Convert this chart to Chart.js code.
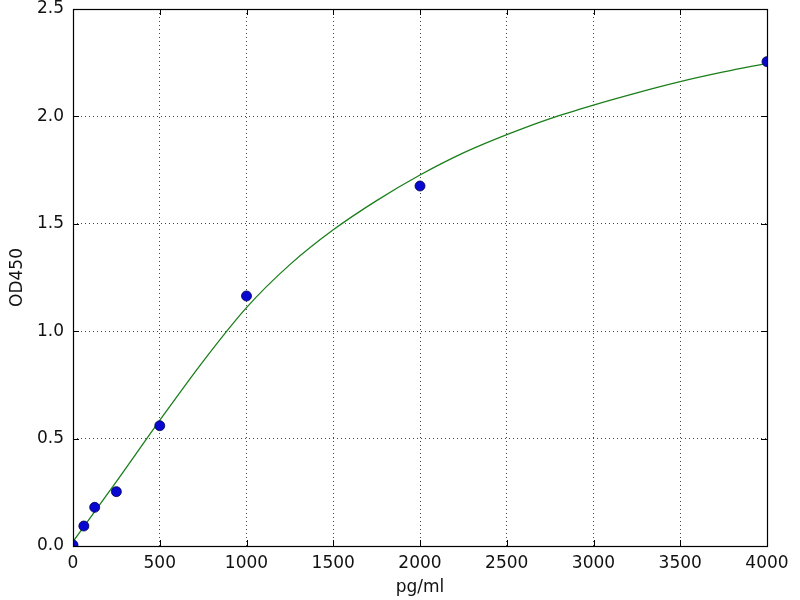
<!DOCTYPE html>
<html>
<head>
<meta charset="utf-8">
<script src="https://cdn.jsdelivr.net/npm/chart.js@4"></script>
<style>
  html, body { margin: 0; padding: 0; background: #fff; }
</style>
</head>
<body>
<canvas id="c" width="800" height="600"></canvas>
<script>
// measured standards
var concentrations = [0, 62.5, 125, 250, 500, 1000, 2000, 4000];
var odValues = [0.005, 0.093, 0.18, 0.253, 0.56, 1.164, 1.676, 2.255];

// fitted curve
var curveX = [0, 125, 250, 500, 750, 1000, 1250, 1500, 1750, 2000, 2250, 2500, 2750, 3000, 3250, 3500, 3750, 4000];
var curveY = [0.02, 0.16, 0.30, 0.585, 0.86, 1.11, 1.31, 1.472, 1.608, 1.727, 1.83, 1.915, 1.99, 2.053, 2.11, 2.162, 2.207, 2.247];

var xTicks = [0, 500, 1000, 1500, 2000, 2500, 3000, 3500, 4000];
var yTicks = [0, 0.5, 1.0, 1.5, 2.0, 2.5];

var FONT = 'DejaVu Sans';

function toPoints(xs, ys) {
    var out = [];
    for (var i = 0; i < xs.length; i++) out.push({ x: xs[i], y: ys[i] });
    return out;
}

// frame with inward ticks on all four sides (matplotlib classic look)
var framePlugin = {
    id: 'frame',
    afterDatasetsDraw: function (chart) {
        var ctx = chart.ctx, a = chart.chartArea;
        var xs = chart.scales.x, ys = chart.scales.y;
        var len = 6;
        ctx.save();
        ctx.strokeStyle = '#000';
        ctx.lineWidth = 1;
        ctx.beginPath();
        xTicks.forEach(function (v) {
            var px = Math.round(xs.getPixelForValue(v)) + 0.5;
            ctx.moveTo(px, a.bottom); ctx.lineTo(px, a.bottom - len);
            ctx.moveTo(px, a.top); ctx.lineTo(px, a.top + len);
        });
        yTicks.forEach(function (v) {
            var py = Math.round(ys.getPixelForValue(v)) + 0.5;
            ctx.moveTo(a.left, py); ctx.lineTo(a.left + len, py);
            ctx.moveTo(a.right, py); ctx.lineTo(a.right - len, py);
        });
        ctx.stroke();
        ctx.lineWidth = 1.2;
        ctx.strokeRect(Math.round(a.left) + 0.5, Math.round(a.top) + 0.5,
            Math.round(a.right - a.left), Math.round(a.bottom - a.top));
        ctx.restore();
    }
};

var ctx = document.getElementById('c').getContext('2d');
var chart = new Chart(ctx, {
    type: 'scatter',
    data: {
        datasets: [{
            label: 'fit',
            data: toPoints(curveX, curveY),
            showLine: true,
            borderColor: '#1a7f1a',
            borderWidth: 1.3,
            pointRadius: 0,
            cubicInterpolationMode: 'monotone',
            fill: false,
            order: 2
        }, {
            label: 'standards',
            data: toPoints(concentrations, odValues),
            backgroundColor: '#0808d0',
            borderColor: '#000050',
            borderWidth: 0.8,
            pointRadius: 5,
            pointHoverRadius: 5,
            clip: 0,
            order: 1
        }]
    },
    options: {
        responsive: false,
        animation: false,
        devicePixelRatio: 1,
        layout: { padding: { left: 0, right: 33, top: 9, bottom: 0 } },
        plugins: {
            legend: { display: false },
            tooltip: { enabled: false }
        },
        scales: {
            x: {
                type: 'linear',
                min: 0, max: 4000,
                afterBuildTicks: function (s) { s.ticks = xTicks.map(function (v) { return { value: v }; }); },
                afterFit: function (s) { s.height = 54; s.paddingLeft = 0; s.paddingRight = 0; },
                border: { display: false, dash: [1, 3] },
                grid: { color: '#444', lineWidth: 1, drawTicks: false },
                ticks: {
                    color: '#111', padding: 7, maxRotation: 0, autoSkip: false,
                    font: { family: FONT, size: 17 },
                    callback: function (v) { return String(v); }
                },
                title: { display: true, text: 'pg/ml', color: '#111', padding: { top: 0, bottom: 2 }, font: { family: FONT, size: 17 } }
            },
            y: {
                type: 'linear',
                min: 0, max: 2.5,
                afterBuildTicks: function (s) { s.ticks = yTicks.map(function (v) { return { value: v }; }); },
                afterFit: function (s) { s.width = 73; s.paddingTop = 0; s.paddingBottom = 0; },
                border: { display: false, dash: [1, 3] },
                grid: { color: '#444', lineWidth: 1, drawTicks: false },
                ticks: {
                    color: '#111', padding: 9, autoSkip: false, font: { family: FONT, size: 17 },
                    callback: function (v) { return Number(v).toFixed(1); }
                },
                title: { display: true, text: 'OD450', color: '#111', padding: { top: 7, bottom: 0 }, font: { family: FONT, size: 17 } }
            }
        }
    },
    plugins: [framePlugin]
});
</script>
</body>
</html>
